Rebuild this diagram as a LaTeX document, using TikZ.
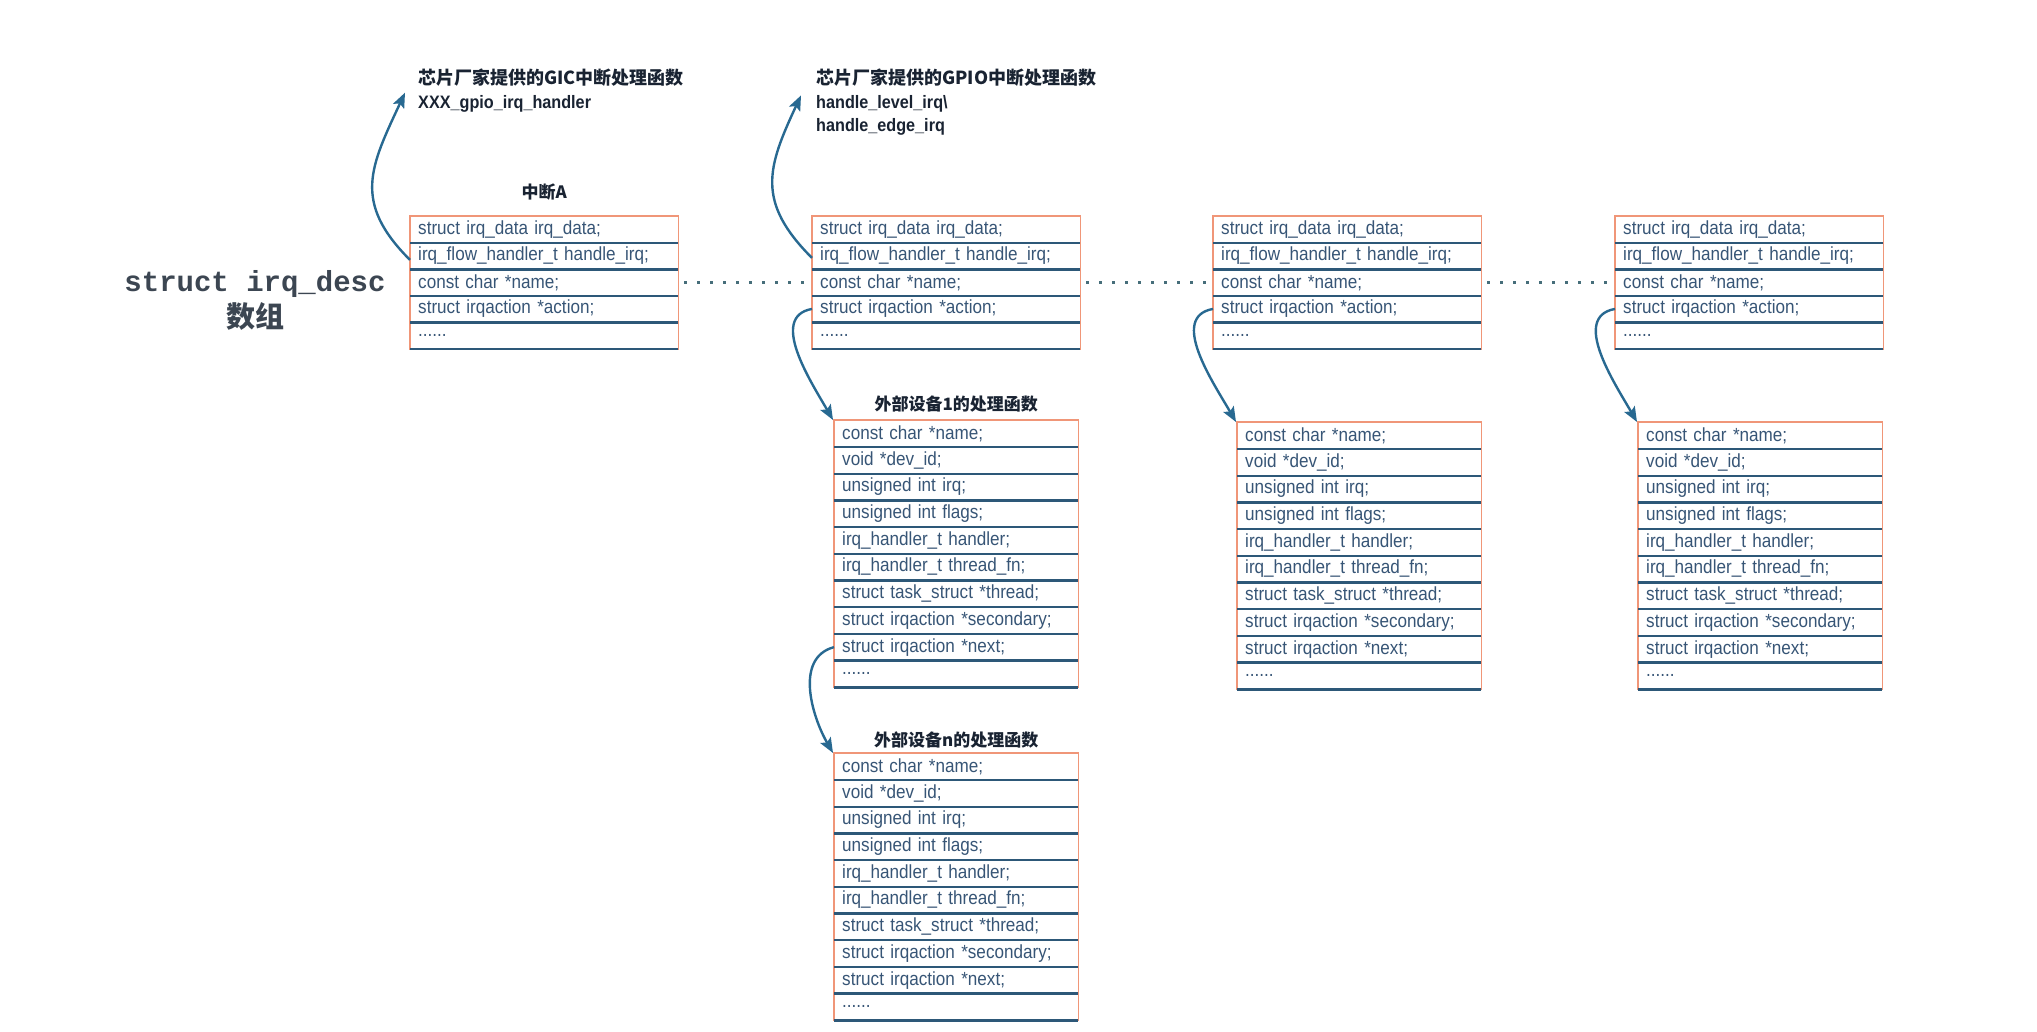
\documentclass[tikz,border=0pt]{standalone}
\usepackage{fontspec}
\setmainfont{Liberation Sans}
\newfontfamily\cellfont{Liberation Sans}[FakeStretch=0.9]
\newfontfamily\cjk{Noto Sans CJK SC}
\newfontfamily\descfont{Liberation Mono}
\usetikzlibrary{arrows.meta,positioning}

\definecolor{boxedge}{RGB}{240,150,120}
\definecolor{rowline}{RGB}{45,88,120}
\definecolor{celltext}{RGB}{55,85,118}
\definecolor{arrowblue}{RGB}{40,105,145}
\definecolor{dotline}{RGB}{70,110,122}
\definecolor{notetext}{RGB}{25,35,50}
\definecolor{desctext}{RGB}{60,70,82}
\newcommand\celldots{......}

\begin{document}
\begin{tikzpicture}[
  x=1pt, y=1pt,
  descrow/.style={anchor=north west, text width=252pt, inner xsep=8pt, inner ysep=0pt,
                  minimum height=26.5pt, align=left, text=celltext,
                  font=\cellfont\fontsize{19}{22}\selectfont},
  actrow/.style={descrow, text width=228pt, minimum height=26.7pt},
  frame/.style={draw=boxedge, line width=1.5pt},
  divider/.style={draw=rowline, line width=2.4pt},
  title/.style={font=\cjk\bfseries\fontsize{17}{20}\selectfont, text=notetext},
  note/.style={align=left, inner sep=0pt, text=notetext,
               font=\cellfont\bfseries\fontsize{18}{23.5}\selectfont},
  descname/.style={align=center, text=desctext,
                   font=\descfont\bfseries\fontsize{29}{36}\selectfont},
  link/.style={-{Stealth[length=15pt, width=12pt, inset=3pt]}, line width=2.4pt, draw=arrowblue},
  chain/.style={draw=dotline, line width=2.6pt, dash pattern=on 3pt off 10pt}
]
\useasboundingbox[fill=white] (0,0) rectangle (2037,1032);
%--- irq_desc array entries ------------------------------------------------
\foreach \d/\x in {A/410, B/812, C/1213, D/1615} {
  \foreach \txt [count=\i] in {struct irq\_data irq\_data;, irq\_flow\_handler\_t handle\_irq;,
                               const char *name;, struct irqaction *action;, \celldots} {
    \node[descrow] (\d-\i) at (\x, 842.5-26.5*\i) {\txt};
  }
  \draw[frame] (\d-1.north west) rectangle (\d-5.south east);
  \foreach \i in {1,...,5} \draw[divider] (\d-\i.south west) -- (\d-\i.south east);
}
%--- irqaction lists -------------------------------------------------------
\foreach \d/\x/\y in {B1/834/612, Bn/834/279, C1/1237/610, D1/1638/610} {
  \foreach \txt [count=\i] in {const char *name;, void *dev\_id;, unsigned int irq;,
                               unsigned int flags;, irq\_handler\_t handler;,
                               irq\_handler\_t thread\_fn;, struct task\_struct *thread;,
                               struct irqaction *secondary;, struct irqaction *next;, \celldots} {
    \node[actrow] (\d-\i) at (\x, \y+26.7-26.7*\i) {\txt};
  }
  \draw[frame] (\d-1.north west) rectangle (\d-10.south east);
  \foreach \i in {1,...,10} \draw[divider] (\d-\i.south west) -- (\d-\i.south east);
}
%--- titles ----------------------------------------------------------------
\node[title, above=12pt of A-1] (titleA) {中断A};
\node[title, above=4pt of B1-1] (titleB1) {外部设备1的处理函数};
\node[title, above=1pt of Bn-1] (titleBn) {外部设备n的处理函数};
\node[descname] (desc) at (255,732) {struct irq\_desc\\{\cjk 数组}};
%--- chip vendor handlers --------------------------------------------------
\node[note, anchor=north west] (gic) at (418,963) {%
  {\cjk 芯片厂家提供的GIC中断处理函数}\\XXX\_gpio\_irq\_handler};
\node[note, anchor=north west] (gpio) at (816,963) {%
  {\cjk 芯片厂家提供的GPIO中断处理函数}\\handle\_level\_irq\textbackslash\\handle\_edge\_irq};
%--- dotted chain between entries ------------------------------------------
\draw[chain] ([xshift=6pt]A-3.east) -- ([xshift=-4pt]B-3.west);
\draw[chain] ([xshift=6pt]B-3.east) -- ([xshift=-4pt]C-3.west);
\draw[chain] ([xshift=6pt]C-3.east) -- ([xshift=-4pt]D-3.west);
%--- arrows: handle_irq -> vendor handlers ---------------------------------
\draw[link] ([yshift=-4pt]A-2.west) to[out=135, in=-115, looseness=1.25]
  ([xshift=-13pt,yshift=-2pt]gic.west);
\draw[link] ([yshift=-2pt]B-2.west) to[out=135, in=-115, looseness=1.25]
  ([xshift=-15pt,yshift=7pt]gpio.west);
%--- arrows: action -> irqaction -------------------------------------------
\draw[link] (B-4.west) to[out=190, in=120] ([xshift=-1pt]B1-1.north west);
\draw[link] (C-4.west) to[out=190, in=120] ([xshift=-1pt]C1-1.north west);
\draw[link] (D-4.west) to[out=190, in=120] ([xshift=-1pt]D1-1.north west);
\draw[link] (B1-9.west) to[out=195, in=120] ([xshift=-1pt]Bn-1.north west);
\end{tikzpicture}
\end{document}
